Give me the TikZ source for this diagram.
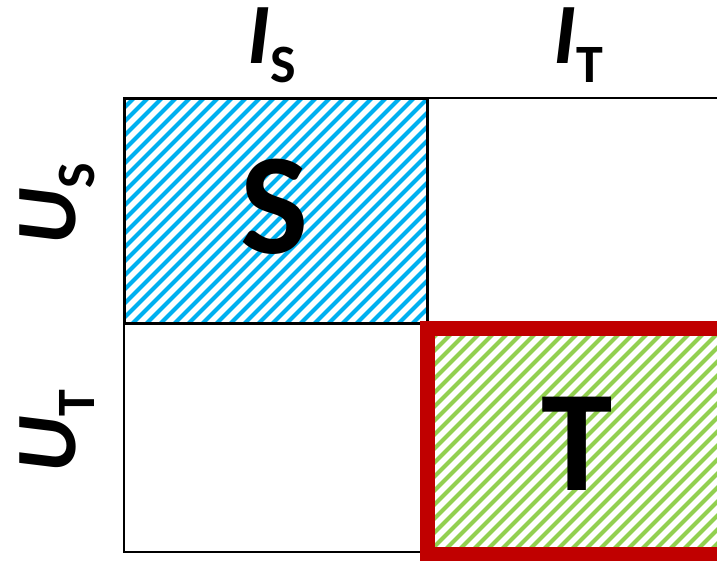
\documentclass[tikz,border=0pt]{standalone}
\usepackage{fontspec}
\setmainfont{Carlito}
\usepackage{tikz}
\definecolor{srcblue}{HTML}{00B0F0}
\definecolor{tgtgreen}{HTML}{92D050}
\definecolor{tgtred}{HTML}{C00000}
\newcommand{\axislab}[2]{{\fontsize{86}{86}\selectfont\textit{#1}}\raisebox{-19pt}{\fontsize{54}{54}\selectfont\upshape #2}}

\begin{document}
\begin{tikzpicture}[x=1pt,y=-1pt,every node/.style={font=\bfseries\upshape,inner sep=0pt}]
\useasboundingbox (0,0) rectangle (717,560);
% hatched blocks
\begin{scope}
\clip (124,98) rectangle (427,323);
\foreach \x in {-126,-112,...,440}{
  \draw[srcblue,line width=4.2] (\x,330) -- ++(240,-240);
}
\end{scope}
\begin{scope}
\clip (427,328) rectangle (717,560);
\foreach \x in {164,178,...,730}{
  \draw[tgtgreen,line width=4.2] (\x,565) -- ++(250,-250);
}
\end{scope}
% frames
\draw[line width=2.5] (124,98) rectangle (740,552);
\draw[line width=3] (124,98) rectangle (427,323);
\draw[tgtred,line width=15] (427,328) rectangle (740,554);
% labels
\node[anchor=base] (isrc) at (272,63) {\axislab{I}{S}};
\node[anchor=base] (itgt) at (578,63) {\axislab{I}{T}};
\node[anchor=base,rotate=90] (usrc) at (75,204) {\axislab{U}{S}};
\node[anchor=base,rotate=90] (utgt) at (75,431) {\axislab{U}{T}};
\node[anchor=base,font=\bfseries\upshape\fontsize{144}{144}\selectfont] (srcname) at (275,253) {S};
\node[anchor=base,font=\bfseries\upshape\fontsize{144}{144}\selectfont] (tgtname) at (577,490) {T};
\end{tikzpicture}
\end{document}
